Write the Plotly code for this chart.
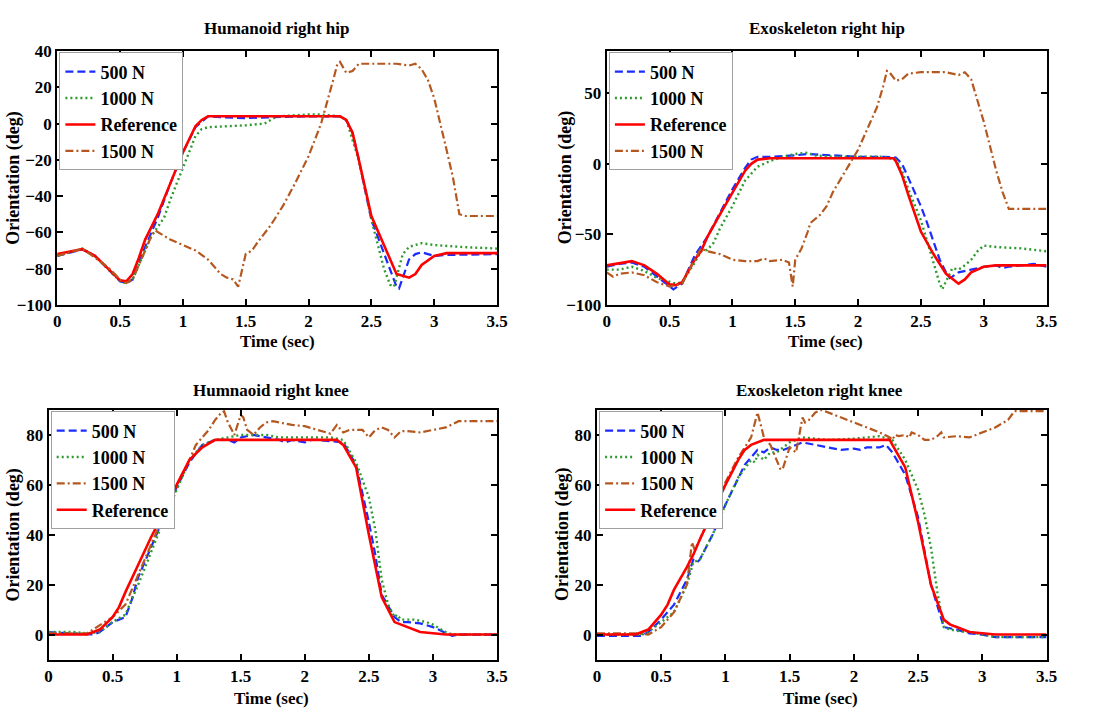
import plotly.graph_objects as go

# ---------------- Humanoid right hip ----------------
hh_ref_t = [0, 0.1, 0.2, 0.3, 0.4, 0.5, 0.55, 0.6, 0.65, 0.7, 0.75, 0.8, 0.9, 1.0, 1.1, 1.15, 1.2, 1.5, 2.0, 2.25, 2.3, 2.35, 2.4, 2.5, 2.6, 2.7, 2.8, 2.85, 2.9, 3.0, 3.1, 3.5]
hh_ref_y = [-72, -70.5, -69.3, -73, -80, -86.5, -87, -83, -74, -64, -57, -50, -33, -16, -1.5, 2, 4, 4, 4, 4, 2, -5, -20, -51, -67, -83, -85, -83, -78, -73, -71.5, -71.5]
hh_500_t = [0, 0.2, 0.3, 0.4, 0.5, 0.55, 0.6, 0.7, 0.8, 0.9, 1.0, 1.1, 1.2, 1.3, 1.5, 1.7, 2.0, 2.25, 2.3, 2.35, 2.4, 2.5, 2.6, 2.7, 2.72, 2.8, 2.85, 2.9, 2.95, 3.0, 3.1, 3.5]
hh_500_y = [-73, -69.5, -73, -80, -87, -88, -86, -68, -52, -33, -16, -2, 4, 3.5, 3, 3.5, 4, 4, 2, -5, -20, -53, -72, -90, -91, -75, -72, -71, -72, -73, -72.5, -72]
hh_1000_t = [0, 0.2, 0.3, 0.4, 0.5, 0.55, 0.6, 0.7, 0.75, 0.8, 0.85, 0.9, 1.0, 1.1, 1.15, 1.2, 1.5, 1.6, 1.65, 1.7, 1.75, 2.0, 2.1, 2.25, 2.3, 2.4, 2.5, 2.6, 2.65, 2.68, 2.72, 2.75, 2.8, 2.9, 3.0, 3.2, 3.5]
hh_1000_y = [-73, -69, -73, -80, -87, -88, -86, -70, -62, -57, -52, -42, -24, -7, -3, -2, -1, -0.5, 0, 2, 4, 5, 5, 4, 2, -20, -53, -80, -89, -90, -80, -72, -68, -66, -67, -68, -69]
hh_1500_t = [0, 0.2, 0.4, 0.5, 0.55, 0.6, 0.7, 0.75, 0.78, 0.85, 0.9, 1.0, 1.1, 1.2, 1.3, 1.35, 1.4, 1.44, 1.5, 1.55, 1.6, 1.7, 1.8, 1.9, 2.0, 2.1, 2.15, 2.2, 2.23, 2.25, 2.3, 2.35, 2.4, 2.5, 2.6, 2.7, 2.8, 2.85, 2.9, 2.95, 3.0, 3.05, 3.1, 3.15, 3.2, 3.25, 3.5]
hh_1500_y = [-73, -69, -79, -86, -88, -86, -70, -62, -59, -62, -64, -67, -70, -75, -83, -85, -86, -90, -72, -70, -65, -56, -45, -32, -18, 0, 12, 25, 33, 34, 28, 29, 33, 33, 33, 33, 32, 33, 30, 24, 14, 0, -15, -30, -50, -51, -51]

# ---------------- Exoskeleton right hip ----------------
eh_ref_t = [0, 0.2, 0.3, 0.4, 0.5, 0.55, 0.6, 0.7, 0.75, 0.8, 0.9, 1.0, 1.1, 1.15, 1.2, 1.3, 2.0, 2.28, 2.3, 2.35, 2.4, 2.5, 2.6, 2.7, 2.8, 2.85, 2.9, 3.0, 3.1, 3.5]
eh_ref_y = [-72, -69, -72, -78, -85.5, -86, -84, -68, -62, -52, -36, -20, -5, 0, 3, 4, 4, 4, 2, -8, -22, -48, -64, -78, -85, -82, -77, -73, -72, -72]
eh_500_t = [0, 0.1, 0.2, 0.3, 0.4, 0.5, 0.53, 0.6, 0.7, 0.8, 0.9, 1.0, 1.1, 1.15, 1.2, 1.3, 1.5, 1.6, 1.8, 2.0, 2.2, 2.3, 2.35, 2.4, 2.5, 2.55, 2.6, 2.65, 2.7, 2.73, 2.75, 2.8, 2.9, 3.0, 3.1, 3.15, 3.2, 3.3, 3.4, 3.5]
eh_500_y = [-73, -71, -70, -73, -80, -87, -89, -85, -65, -52, -35, -18, -3, 3, 5, 5, 6, 7, 6, 5, 5, 4.5, 0, -10, -30, -42, -55, -68, -77, -81, -80, -77, -75, -73, -72, -74, -73, -72, -71, -73]
eh_1000_t = [0, 0.1, 0.2, 0.3, 0.4, 0.5, 0.55, 0.6, 0.7, 0.75, 0.8, 0.85, 0.9, 1.0, 1.1, 1.2, 1.3, 1.4, 1.5, 1.6, 1.65, 1.8, 2.0, 2.2, 2.3, 2.35, 2.4, 2.5, 2.6, 2.65, 2.67, 2.72, 2.75, 2.8, 2.85, 2.9, 2.95, 3.0, 3.1, 3.3, 3.5]
eh_1000_y = [-75, -75, -73, -76, -81, -84, -85, -84, -70, -62, -61, -56, -46, -30, -12, -2, 2, 5, 7, 8, 6, 5, 5, 5, 3, -5, -18, -40, -70, -85, -89, -80, -74, -75, -72, -68, -62, -58, -59, -60, -62]
eh_1500_t = [0, 0.05, 0.1, 0.2, 0.3, 0.4, 0.5, 0.6, 0.7, 0.75, 0.8, 0.9, 1.0, 1.1, 1.2, 1.25, 1.3, 1.4, 1.45, 1.47, 1.48, 1.5, 1.55, 1.6, 1.62, 1.7, 1.75, 1.8, 1.9, 2.0, 2.1, 2.15, 2.2, 2.23, 2.25, 2.3, 2.35, 2.4, 2.5, 2.7, 2.8, 2.85, 2.9, 3.0, 3.1, 3.15, 3.2, 3.5]
eh_1500_y = [-77, -80, -78, -77, -79, -84, -87, -85, -68, -60, -62, -64, -68, -69, -69, -67, -69, -68, -70, -80, -87, -68, -60, -48, -42, -36, -30, -20, -5, 10, 30, 40, 55, 66, 65, 59, 60, 64, 65, 65, 63, 65, 60, 30, -5, -20, -32, -32]

# ---------------- Humanoid right knee ----------------
hk_ref_t = [0, 0.3, 0.4, 0.5, 0.55, 0.6, 0.7, 0.8, 0.9, 1.0, 1.1, 1.2, 1.3, 1.35, 2.0, 2.25, 2.3, 2.4, 2.5, 2.6, 2.7, 2.8, 2.9, 3.0, 3.1, 3.5]
hk_ref_y = [0, 0, 2, 7, 11, 17, 28, 39, 49, 60, 70, 75, 78, 78, 78, 78, 76, 67, 40, 15, 5, 3, 1, 0.5, 0, 0]
hk_500_t = [0, 0.2, 0.35, 0.4, 0.5, 0.55, 0.6, 0.65, 0.7, 0.8, 0.9, 1.0, 1.1, 1.2, 1.3, 1.4, 1.45, 1.5, 1.6, 1.7, 1.8, 1.85, 1.9, 2.0, 2.05, 2.1, 2.3, 2.4, 2.5, 2.55, 2.6, 2.7, 2.75, 2.8, 2.9, 3.0, 3.1, 3.15, 3.2, 3.5]
hk_500_y = [1, 0.5, 0, 1, 5, 6, 7, 14, 23, 35, 47, 59, 69, 76, 78, 78, 77, 79, 80, 79, 78, 77, 78, 77, 78, 78, 77, 68, 45, 32, 16, 7, 5, 5, 4.5, 3, 0.5, -0.5, 0, 0]
hk_1000_t = [0, 0.2, 0.3, 0.4, 0.5, 0.6, 0.7, 0.8, 0.9, 1.0, 1.1, 1.2, 1.3, 1.5, 1.6, 1.7, 1.8, 2.0, 2.2, 2.3, 2.4, 2.5, 2.55, 2.6, 2.65, 2.7, 2.72, 2.75, 2.85, 2.95, 3.0, 3.1, 3.15, 3.5]
hk_1000_y = [1, 1, 0.5, 1, 5, 8, 20, 33, 46, 58, 70, 76, 78, 80, 80, 80, 79, 79, 79, 78, 69, 55, 42, 22, 12, 7, 8, 6, 6, 5, 4, 1, 0, 0]
hk_1500_t = [0, 0.3, 0.5, 0.6, 0.7, 0.8, 0.9, 1.0, 1.1, 1.15, 1.2, 1.25, 1.3, 1.35, 1.37, 1.4, 1.45, 1.5, 1.52, 1.55, 1.6, 1.65, 1.7, 1.75, 1.8, 1.9, 2.0, 2.1, 2.2, 2.25, 2.3, 2.35, 2.45, 2.5, 2.55, 2.6, 2.65, 2.7, 2.75, 2.8, 2.9, 3.0, 3.1, 3.2, 3.3, 3.5]
hk_1500_y = [0.5, 0.5, 7, 12, 24, 36, 48, 60, 70, 76, 79, 82, 86, 89, 89.5, 85, 80, 88, 87, 82, 80, 83, 85, 85.5, 85, 84, 83.5, 82, 80.5, 84, 81, 82, 82, 79, 82, 83, 82, 79, 81.5, 81.5, 81, 82, 83, 85.5, 85.5, 85.5]

# ---------------- Exoskeleton right knee ----------------
ek_ref_t = [0, 0.3, 0.4, 0.5, 0.55, 0.6, 0.7, 0.75, 0.8, 0.9, 1.0, 1.1, 1.15, 1.2, 1.3, 2.0, 2.28, 2.3, 2.4, 2.5, 2.6, 2.7, 2.75, 2.8, 2.9, 3.0, 3.1, 3.5]
ek_ref_y = [0, 0, 2, 8, 12, 18, 27, 32, 38, 49, 60, 70, 74, 76, 78, 78, 78, 76, 67, 45, 20, 6, 4, 3, 1, 0.5, 0, 0]
ek_500_t = [0, 0.35, 0.4, 0.5, 0.6, 0.7, 0.75, 0.78, 0.8, 0.9, 1.0, 1.1, 1.15, 1.2, 1.25, 1.3, 1.35, 1.4, 1.45, 1.5, 1.6, 1.7, 1.8, 1.9, 2.0, 2.05, 2.1, 2.2, 2.25, 2.3, 2.4, 2.5, 2.6, 2.7, 2.8, 2.9, 3.0, 3.1, 3.5]
ek_500_y = [-0.5, -0.5, 1, 6, 12, 22, 30, 29, 30, 40, 52, 63, 68, 71, 74, 73, 75, 74, 74, 75, 77, 76, 75, 74, 74.5, 74, 75, 75, 76, 73, 64, 47, 20, 3, 2, 0.5, 0, -1, -1]
ek_1000_t = [0, 0.35, 0.4, 0.5, 0.6, 0.7, 0.75, 0.8, 0.9, 1.0, 1.1, 1.2, 1.23, 1.25, 1.3, 1.35, 1.4, 1.5, 1.6, 1.7, 1.8, 2.0, 2.1, 2.2, 2.3, 2.4, 2.5, 2.55, 2.6, 2.65, 2.7, 2.75, 2.8, 2.9, 3.0, 3.1, 3.5]
ek_1000_y = [0, 0, 1, 5, 9, 20, 29, 30, 40, 52, 63, 70, 69, 72, 70, 73, 73, 77, 79, 78.5, 78, 78.5, 79, 79.5, 78, 70, 58, 48, 35, 17, 3, 2, 1.5, 1, 0, -1, -1]
ek_1500_t = [0, 0.3, 0.4, 0.5, 0.6, 0.7, 0.74, 0.76, 0.8, 0.9, 1.0, 1.1, 1.2, 1.25, 1.3, 1.35, 1.43, 1.45, 1.5, 1.55, 1.6, 1.62, 1.65, 1.7, 1.75, 1.8, 1.9, 2.0, 2.1, 2.2, 2.28, 2.3, 2.32, 2.35, 2.4, 2.43, 2.45, 2.5, 2.55, 2.6, 2.65, 2.68, 2.7, 2.8, 2.9, 3.0, 3.1, 3.2, 3.25, 3.5]
ek_1500_y = [0.5, 0.5, 0, 3, 9, 20, 37, 34, 38, 50, 61, 71, 79, 89, 79, 76, 66, 67, 75, 73, 87, 85, 86, 89, 90, 89, 87, 85, 83, 81, 79, 78, 80, 79.5, 80, 79, 81, 80, 78, 78, 79.5, 81, 79, 79.5, 79, 81, 83, 86, 89.5, 89.5]

panel_titles = ["Humanoid right hip", "Exoskeleton right hip", "Humnaoid right knee", "Exoskeleton right knee"]
x_label = "Time (sec)"
y_label = "Orientation (deg)"
x_ticks = [0, 0.5, 1, 1.5, 2, 2.5, 3, 3.5]
x_tick_text = ["0", "0.5", "1", "1.5", "2", "2.5", "3", "3.5"]
hip_h_ticks = [-100, -80, -60, -40, -20, 0, 20, 40]
hip_e_ticks = [-100, -50, 0, 50]
knee_ticks = [0, 20, 40, 60, 80]

FONT = "Liberation Serif"
C500, C1000, CREF, C1500 = "#1a2cff", "#2e9a2e", "#ff0000", "#b5581f"

styles = {
    "500 N": dict(color=C500, dash="8px,4px", width=2.2),
    "1000 N": dict(color=C1000, dash="2px,3px", width=2.4),
    "Reference": dict(color=CREF, dash="solid", width=2.6),
    "1500 N": dict(color=C1500, dash="8px,3px,2px,3px", width=2.2),
}

W, H = 1101, 720
panels = [
    # series in legend order, x domain, y domain, y range, y ticks,
    # title centre (px), x-label centre (px), y-label centre x (px)
    ([("500 N", hh_500_t, hh_500_y), ("1000 N", hh_1000_t, hh_1000_y),
      ("Reference", hh_ref_t, hh_ref_y), ("1500 N", hh_1500_t, hh_1500_y)],
     [0.049, 0.454], [0.578, 0.940], [-100, 40], hip_h_ticks, (277, 20), (277, 341), 10),
    ([("500 N", eh_500_t, eh_500_y), ("1000 N", eh_1000_t, eh_1000_y),
      ("Reference", eh_ref_t, eh_ref_y), ("1500 N", eh_1500_t, eh_1500_y)],
     [0.555, 0.960], [0.578, 0.940], [-100, 80], hip_e_ticks, (834, 20), (833, 341), 570),
    ([("500 N", hk_500_t, hk_500_y), ("1000 N", hk_1000_t, hk_1000_y),
      ("1500 N", hk_1500_t, hk_1500_y), ("Reference", hk_ref_t, hk_ref_y)],
     [0.041, 0.454], [0.072, 0.428], [-10, 90], knee_ticks, (271, 392), (271, 708), 10),
    ([("500 N", ek_500_t, ek_500_y), ("1000 N", ek_1000_t, ek_1000_y),
      ("1500 N", ek_1500_t, ek_1500_y), ("Reference", ek_ref_t, ek_ref_y)],
     [0.546, 0.960], [0.072, 0.428], [-10, 90], knee_ticks, (827, 392), (828, 708), 566),
]

def bold(size):
    return dict(family=FONT, size=size, color="black", weight="bold")

fig = go.Figure()
layout = dict(
    width=W, height=H,
    margin=dict(l=0, r=0, t=0, b=0),
    paper_bgcolor="white", plot_bgcolor="white",
    font=dict(family=FONT, color="black"),
    annotations=[],
)

for i, (series, xd, yd, yr, yt, tpos, xlpos, ylx) in enumerate(panels):
    n = "" if i == 0 else str(i + 1)
    leg = "legend" + n
    for name, t, y in series:
        fig.add_trace(go.Scatter(
            x=t, y=y, mode="lines", name=name, line=styles[name],
            xaxis="x" + n, yaxis="y" + n, legend=leg,
        ))
    axis_common = dict(
        showline=True, linecolor="black", linewidth=2, mirror="ticks",
        ticks="inside", ticklen=6, tickwidth=1.5, tickcolor="black",
        showgrid=False, zeroline=False, tickfont=bold(17),
    )
    layout["xaxis" + n] = dict(axis_common, domain=xd, range=[0, 3.5], anchor="y" + n,
                               tickvals=x_ticks, ticktext=x_tick_text)
    layout["yaxis" + n] = dict(axis_common, domain=yd, range=yr, anchor="x" + n, tickvals=yt)
    layout[leg] = dict(
        x=xd[0] + 0.002, y=yd[1] - 0.002, xanchor="left", yanchor="top",
        bgcolor="white", bordercolor="#a0a0a0", borderwidth=1,
        font=bold(18), itemwidth=30, tracegroupgap=0, traceorder="normal",
    )
    layout["annotations"] += [
        dict(text=panel_titles[i], xref="paper", yref="paper",
             x=tpos[0] / W, y=1 - tpos[1] / H, xanchor="center", yanchor="middle",
             showarrow=False, font=bold(17)),
        dict(text=x_label, xref="paper", yref="paper",
             x=xlpos[0] / W, y=1 - xlpos[1] / H, xanchor="center", yanchor="middle",
             showarrow=False, font=bold(17)),
        dict(text=y_label, xref="paper", yref="paper", textangle=-90,
             x=ylx / W, y=(yd[0] + yd[1]) / 2, xanchor="center", yanchor="middle",
             showarrow=False, font=bold(18)),
    ]

fig.update_layout(**layout)
fig.write_html("out.html")
